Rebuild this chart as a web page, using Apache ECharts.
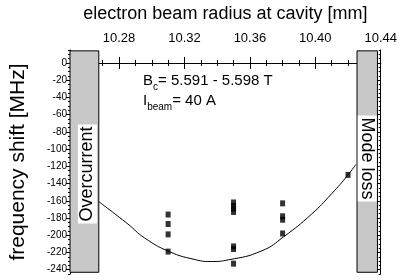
<!DOCTYPE html>
<html>
<head>
<meta charset="UTF-8">
<script src="https://cdn.jsdelivr.net/npm/echarts@6/dist/echarts.min.js"></script>
<style>html,body{margin:0;padding:0;background:#fff}</style>
</head>
<body>
<div id="chart" style="width:400px;height:280px;"></div>
<script>
// measured points: electron beam radius [mm] vs frequency shift [MHz]
var radius = [10.31, 10.31, 10.31, 10.31,
              10.35, 10.35, 10.35, 10.35, 10.35, 10.35, 10.35,
              10.38, 10.38, 10.38, 10.38,
              10.42];
var shift = [-176, -187, -199, -219,
             -162, -166, -169, -173, -213, -216, -233,
             -163, -178, -182, -198,
             -130];
// fit curve
var fitX = [10.2676, 10.2854, 10.2955, 10.3107, 10.3259, 10.3360, 10.3471, 10.3674, 10.3805, 10.3977, 10.4099, 10.4200, 10.4247];
var fitY = [-161, -187, -203, -219, -228, -230.5, -228.5, -218, -202, -175.5, -152, -130, -118];
// tick labels
var xTicks = [10.28, 10.32, 10.36, 10.40, 10.44];
var yTicks = [0, -20, -40, -60, -80, -100, -120, -140, -160, -180, -200, -220, -240];
// shaded regions (x range) and their labels
var overcurrent = [10.25, 10.2676];
var modeLoss = [10.4255, 10.438];
var boxY = [14, -243];

var font = 'Liberation Sans, Arial, sans-serif';
var chart = echarts.init(document.getElementById('chart'));

function xAx(pos, major) {
  var a = {
    type: 'value', position: pos, min: 10.25, max: 10.44,
    splitLine: {show: false},
    axisLine: {show: !major, lineStyle: {color: '#000', width: 1}},
    axisTick: {inside: true, length: major ? 6 : 3, lineStyle: {color: '#000'}},
    axisLabel: {show: false}
  };
  if (major) a.axisTick.customValues = xTicks;
  else a.interval = 0.01;
  return a;
}
function yAx(pos, major) {
  var a = {
    type: 'value', position: pos, min: -245, max: 15,
    splitLine: {show: false},
    axisLine: {show: !major, lineStyle: {color: '#000', width: 1}},
    axisTick: {inside: pos === 'right', length: major ? 4 : 2, lineStyle: {color: '#000'}},
    axisLabel: {show: false}
  };
  if (major) a.axisTick.customValues = yTicks;
  else a.interval = 5;
  return a;
}

var xTop = xAx('top', true);
xTop.axisLabel = {show: true, customValues: xTicks, color: '#000', fontSize: 13, fontFamily: font, margin: 5,
  formatter: function (v) { return v.toFixed(2); }};
xTop.name = 'electron beam radius at cavity [mm]';
xTop.nameLocation = 'middle';
xTop.nameGap = 27;
xTop.nameTextStyle = {color: '#000', fontSize: 18, fontFamily: font};

var yLeft = yAx('left', true);
yLeft.axisLabel = {show: true, customValues: yTicks, color: '#000', fontSize: 10, fontFamily: font, margin: 3};
yLeft.name = 'frequency shift [MHz]';
yLeft.nameLocation = 'middle';
yLeft.nameGap = 41;
yLeft.nameTextStyle = {color: '#000', fontSize: 21, fontFamily: font};

var pts = radius.map(function (r, i) { return [r, shift[i]]; });
var fit = fitX.map(function (r, i) { return [r, fitY[i]]; });

chart.setOption({
  animation: false,
  grid: {left: 70, right: 17, top: 48, bottom: 6},
  xAxis: [xAx('bottom', false), xAx('bottom', true), xAx('top', false), xTop],
  yAxis: [yAx('left', false), yLeft, yAx('right', false), yAx('right', true)],
  series: [
    {
      type: 'scatter', data: pts, symbol: 'rect', symbolSize: [5, 6],
      itemStyle: {color: '#000'}, z: 5,
      markArea: {
        silent: true,
        itemStyle: {color: '#c8c8c8', borderColor: '#000', borderWidth: 1},
        data: [
          [{coord: [overcurrent[0], boxY[0]]}, {coord: [overcurrent[1], boxY[1]]}],
          [{coord: [modeLoss[0], boxY[0]]}, {coord: [modeLoss[1], boxY[1]]}]
        ]
      }
    },
    {
      type: 'line', data: fit, smooth: 0.5, showSymbol: false, z: 4,
      lineStyle: {color: '#000', width: 1}
    }
  ]
});

var p1 = chart.convertToPixel({xAxisIndex: 0, yAxisIndex: 0}, [(overcurrent[0] + overcurrent[1]) / 2, -129]);
var p2 = chart.convertToPixel({xAxisIndex: 0, yAxisIndex: 0}, [(modeLoss[0] + modeLoss[1]) / 2, -111]);

chart.setOption({
  graphic: [
    {
      type: 'text', x: p1[0] + 3, y: p1[1], rotation: Math.PI / 2, z: 10,
      style: {text: 'Overcurrent', fill: '#000', font: '18px ' + font, align: 'center', verticalAlign: 'middle',
        backgroundColor: '#fff', padding: [1, 2, 0, 2]}
    },
    {
      type: 'text', x: p2[0], y: p2[1], rotation: -Math.PI / 2, z: 10,
      style: {text: 'Mode loss', fill: '#000', font: '18px ' + font, align: 'center', verticalAlign: 'middle',
        backgroundColor: '#fff', padding: [1, 2, 0, 2]}
    },
    {
      type: 'text', left: 143, top: 70, z: 10,
      style: {
        text: '{m|B}{s|c}{m|= 5.591 - 5.598 T}\n{m|I}{s|beam}{m|= 40 A}',
        rich: {
          m: {fontSize: 15, fontFamily: font, fill: '#000', lineHeight: 20},
          s: {fontSize: 10, fontFamily: font, fill: '#000', lineHeight: 10, padding: [12, 0, 0, 0]}
        }
      }
    }
  ]
});
</script>
</body>
</html>
